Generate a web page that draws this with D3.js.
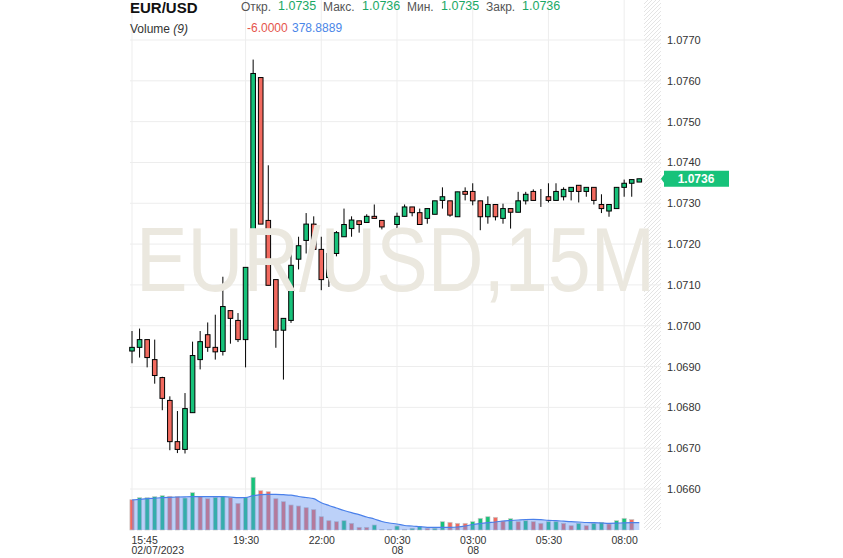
<!DOCTYPE html>
<html>
<head>
<meta charset="utf-8">
<script src="https://cdn.jsdelivr.net/npm/d3@7"></script>
<style>
    body { margin: 0; background: #fff; }
    svg { font-family: "Liberation Sans", Arial, sans-serif; display: block; }
</style>
</head>
<body>
<svg id="chart"></svg>
<script>
// 15-minute bars, EUR/USD
const times = ["15:45","16:00","16:15","16:30","16:45","17:00","17:15","17:30","17:45","18:00",
    "18:15","18:30","18:45","19:00","19:15","19:30","19:45","20:00","20:15","20:30",
    "20:45","21:00","21:15","21:30","21:45","22:00","22:15","22:30","22:45","23:00",
    "23:15","23:30","23:45","00:00","00:15","00:30","00:45","01:00","01:15","01:30",
    "01:45","02:00","02:15","02:30","02:45","03:00","03:15","03:30","03:45","04:00",
    "04:15","04:30","04:45","05:00","05:15","05:30","05:45","06:00","06:15","06:30",
    "06:45","07:00","07:15","07:30","07:45","08:00","08:15","08:30"];

const opens = [1.06938,1.06947,1.06966,1.06917,1.06873,1.06817,1.06716,1.06697,1.06787,1.06917,
    1.06978,1.06947,1.06937,1.07037,1.07013,1.06966,1.07167,1.07608,1.07258,1.07113,
    1.06989,1.07013,1.07163,1.07209,1.07249,1.07187,1.07118,1.07177,1.07218,1.07238,
    1.07257,1.07253,1.07268,1.07258,1.07248,1.07248,1.07268,1.07291,1.07277,1.07263,
    1.07273,1.07307,1.07306,1.07267,1.07329,1.07329,1.07306,1.07267,1.07297,1.07263,
    1.07287,1.07278,1.07306,1.07329,1.07316,1.07316,1.07307,1.07316,1.07329,1.07344,
    1.07329,1.07339,1.07297,1.07281,1.07287,1.07339,1.07349,1.07352];
const highs = [1.06987,1.06993,1.06966,1.06966,1.06875,1.06827,1.06791,1.06835,1.06961,1.06987,
    1.07008,1.07027,1.07120,1.07037,1.07031,1.07143,1.07652,1.07608,1.07393,1.07113,
    1.07018,1.07175,1.07218,1.07276,1.07268,1.07218,1.07196,1.07232,1.07287,1.07268,
    1.07257,1.07273,1.07297,1.07258,1.07248,1.07277,1.07297,1.07291,1.07287,1.07287,
    1.07306,1.07339,1.07306,1.07328,1.07339,1.07349,1.07306,1.07317,1.07297,1.07299,
    1.07287,1.07328,1.07328,1.07334,1.07335,1.07349,1.07349,1.07339,1.07339,1.07344,
    1.07339,1.07339,1.07322,1.07297,1.07339,1.07358,1.07358,1.07360];
const lows = [1.06908,1.06922,1.06898,1.06858,1.06793,1.06695,1.06688,1.06687,1.06787,1.06893,
    1.06936,1.06917,1.06927,1.06956,1.06960,1.06898,1.07156,1.07249,1.07099,1.06946,
    1.06868,1.07007,1.07138,1.07177,1.07187,1.07087,1.07095,1.07170,1.07218,1.07218,
    1.07228,1.07253,1.07263,1.07236,1.07248,1.07238,1.07268,1.07268,1.07248,1.07250,
    1.07273,1.07287,1.07267,1.07267,1.07307,1.07295,1.07234,1.07250,1.07258,1.07250,
    1.07238,1.07278,1.07297,1.07307,1.07291,1.07302,1.07307,1.07307,1.07307,1.07302,
    1.07316,1.07297,1.07276,1.07267,1.07287,1.07316,1.07316,1.07352];
const closes = [1.06947,1.06966,1.06922,1.06878,1.06822,1.06716,1.06697,1.06797,1.06927,1.06961,
    1.06947,1.06936,1.07047,1.07018,1.06966,1.07143,1.07618,1.07249,1.07099,1.06989,
    1.07018,1.07148,1.07196,1.07249,1.07187,1.07113,1.07177,1.07228,1.07248,1.07259,
    1.07248,1.07268,1.07263,1.07242,1.07248,1.07268,1.07291,1.07277,1.07248,1.07287,
    1.07306,1.07316,1.07271,1.07328,1.07322,1.07306,1.07267,1.07297,1.07267,1.07287,
    1.07278,1.07306,1.07322,1.07307,1.07316,1.07307,1.07329,1.07334,1.07339,1.07329,
    1.07339,1.07307,1.07287,1.07297,1.07339,1.07349,1.07358,1.07360];

const volumes = [1576,1680,1680,1732,1784,1752,1732,1664,1940,1732,
    1628,1700,1732,1680,1388,1680,2740,2044,1992,1628,
    1472,1300,1248,1160,1056,692,484,432,484,348,
    140,140,260,26,26,208,36,88,172,88,
    88,432,400,348,348,432,608,692,660,468,
    588,432,484,432,348,432,432,348,224,348,
    224,348,400,312,484,608,546,-6];
// 1 = up (green), 0 = down (red) as coloured on the volume pane
const volumeUp = [0,1,1,1,1,0,0,1,1,0, 0,1,1,0,0,1,1,0,0,0, 0,0,0,0,0,0,0,0,1,0,
    0,0,1,0,0,1,0,1,1,0, 1,1,0,0,0,1,1,1,0,0, 1,0,1,0,0,1,1,0,0,1,
    0,1,1,0,1,1,0,0];
// Volume (9) moving average line
const volumeMA = [1560,1596,1628,1654,1680,1700,1716,1726,1732,1732,
    1732,1732,1732,1716,1680,1690,1784,1836,1856,1856,
    1836,1810,1742,1690,1628,1420,1274,1144,1014,900,
    796,676,572,442,364,312,234,208,172,140,
    140,140,140,156,208,286,338,380,416,468,
    494,520,546,556,536,504,484,458,432,416,
    390,380,364,348,354,374,380,379];

const priceTicks = [1.0660,1.0670,1.0680,1.0690,1.0700,1.0710,1.0720,1.0730,1.0740,1.0750,1.0760,1.0770];
const timeTicks = ["15:45","19:30","22:00","00:30","03:00","05:30","08:00"];
const timeSubTicks = ["02/07/2023","","","08","08","",""];

const headerLabels = ["Откр.","Макс.","Мин.","Закр."];
const headerValues = ["1.0735","1.0736","1.0735","1.0736"];
const volumeLegend = ["-6.0000","378.8889"];
const lastPrice = 1.0736;

const GREEN = "#17c27a", RED = "#f26a5f";

class CandleChart {
    constructor(_config) {
        this.config = {
            parentElement: _config.parentElement,
            containerWidth: _config.containerWidth || 843,
            containerHeight: _config.containerHeight || 558,
            plotLeft: 130,
            plotRight: 644,
            axisX: 661,
            priceTop: 40,
            priceBottom: 489,
            volBase: 530,
            volTop: 477.3
        };
        this.initVis();
    }

    initVis() {
        let vis = this;
        const c = vis.config;

        vis.svg = d3.select(c.parentElement)
            .attr('width', c.containerWidth)
            .attr('height', c.containerHeight);

        vis.xScale = d3.scalePoint().domain(times).range([132, 639.3]);
        vis.yScale = d3.scaleLinear().domain([1.0660, 1.0770]).range([c.priceBottom, c.priceTop]);
        vis.vScale = d3.scaleLinear().domain([0, 2740]).range([c.volBase, c.volTop]);

        // hatch pattern for the right margin strip
        const defs = vis.svg.append('defs');
        defs.append('pattern')
            .attr('id', 'hatch')
            .attr('width', 4).attr('height', 4)
            .attr('patternUnits', 'userSpaceOnUse')
            .append('path')
            .attr('d', 'M-1,1 L1,-1 M0,4 L4,0 M3,5 L5,3')
            .attr('stroke', '#e4e4e4')
            .attr('stroke-width', 1);

        vis.svg.append('rect')
            .attr('x', c.plotRight).attr('y', 0)
            .attr('width', c.axisX - c.plotRight).attr('height', c.volBase)
            .attr('fill', 'url(#hatch)');

        vis.gridG = vis.svg.append('g').attr('class', 'grid');
        vis.markG = vis.svg.append('g');
    }

    renderVis() {
        let vis = this;
        const c = vis.config;

        // grid
        vis.gridG.selectAll('.hgrid')
            .data(priceTicks)
            .join('line')
            .attr('class', 'hgrid')
            .attr('x1', c.plotLeft).attr('x2', c.axisX)
            .attr('y1', d => vis.yScale(d)).attr('y2', d => vis.yScale(d))
            .attr('stroke', '#ededed');

        vis.gridG.selectAll('.vgrid')
            .data(timeTicks)
            .join('line')
            .attr('class', 'vgrid')
            .attr('x1', d => vis.xScale(d)).attr('x2', d => vis.xScale(d))
            .attr('y1', 0).attr('y2', c.volBase)
            .attr('stroke', '#ededed');

        // watermark (stretched vertically so its box stays inside the plot)
        vis.svg.append('text')
            .attr('transform', 'translate(136,291) scale(1,1.2)')
            .attr('textLength', 519)
            .attr('lengthAdjust', 'spacingAndGlyphs')
            .style('font-size', '75px')
            .attr('fill', '#ebe8df')
            .text('EUR/USD,15M');

        // volume bars
        const bw = 4.2;
        vis.markG.selectAll('.vol')
            .data(times)
            .join('rect')
            .attr('class', 'vol')
            .attr('x', d => vis.xScale(d) - bw / 2)
            .attr('width', bw)
            .attr('y', (d, i) => vis.vScale(Math.max(0, volumes[i])))
            .attr('height', (d, i) => c.volBase - vis.vScale(Math.max(0, volumes[i])))
            .attr('fill', (d, i) => volumeUp[i] ? GREEN : RED)
            .attr('stroke', '#c9c9c9')
            .attr('stroke-width', 0.7);

        // volume MA area
        const area = d3.area()
            .x((d, i) => vis.xScale(times[i]))
            .y0(c.volBase)
            .y1(d => vis.vScale(d))
            .curve(d3.curveMonotoneX);
        const line = d3.line()
            .x((d, i) => vis.xScale(times[i]))
            .y(d => vis.vScale(d))
            .curve(d3.curveMonotoneX);

        vis.markG.append('path')
            .datum(volumeMA)
            .attr('d', area)
            .attr('fill', 'rgba(96,146,240,0.42)');
        vis.markG.append('path')
            .datum(volumeMA)
            .attr('d', line)
            .attr('fill', 'none')
            .attr('stroke', '#4a80ea')
            .attr('stroke-width', 1.2);

        // candles
        const cw = 4.6;
        vis.markG.selectAll('.wick')
            .data(times)
            .join('line')
            .attr('class', 'wick')
            .attr('x1', d => vis.xScale(d)).attr('x2', d => vis.xScale(d))
            .attr('y1', (d, i) => vis.yScale(highs[i]))
            .attr('y2', (d, i) => vis.yScale(lows[i]))
            .attr('stroke', '#000')
            .attr('stroke-width', 1);

        vis.markG.selectAll('.body')
            .data(times)
            .join('rect')
            .attr('class', 'body')
            .attr('x', d => vis.xScale(d) - cw / 2)
            .attr('width', cw)
            .attr('y', (d, i) => vis.yScale(Math.max(opens[i], closes[i])))
            .attr('height', (d, i) => Math.abs(vis.yScale(opens[i]) - vis.yScale(closes[i])))
            .attr('fill', (d, i) => closes[i] >= opens[i] ? GREEN : RED)
            .attr('stroke', '#000')
            .attr('stroke-width', 1);

        // price axis
        vis.priceAxis = d3.axisRight(vis.yScale)
            .tickValues(priceTicks)
            .tickSize(0)
            .tickPadding(6)
            .tickFormat(d3.format('.4f'));
        const pa = vis.svg.append('g')
            .attr('transform', `translate(${c.axisX},0)`)
            .call(vis.priceAxis);
        pa.select('.domain').remove();
        pa.selectAll('text').style('font-size', '11px').attr('fill', '#333');

        // time axis
        vis.timeAxis = d3.axisBottom(vis.xScale)
            .tickValues(timeTicks)
            .tickSize(0)
            .tickPadding(0);
        const ta = vis.svg.append('g')
            .attr('transform', `translate(0,${c.volBase})`)
            .call(vis.timeAxis);
        ta.select('.domain').remove();
        ta.selectAll('.tick text')
            .style('font-size', '10.5px')
            .attr('fill', '#333')
            .attr('dy', null)
            .attr('y', 0)
            .attr('text-anchor', (d, i) => i === 0 ? 'start' : 'middle')
            .attr('x', (d, i) => i === 0 ? -1 : 0)
            .each(function(d, i) {
                const t = d3.select(this);
                t.text(null);
                t.append('tspan').attr('x', i === 0 ? -1 : 0).attr('y', 13.5).text(d);
                if (timeSubTicks[i]) {
                    t.append('tspan').attr('x', i === 0 ? -1 : 0).attr('y', 24).text(timeSubTicks[i]);
                }
            });

        // last price tag
        const py = vis.yScale(lastPrice);
        vis.svg.append('path')
            .attr('d', `M${c.axisX},${py} L${c.axisX + 3},${py - 4} L${c.axisX + 3},${py - 8} L729,${py - 8} L729,${py + 8} L${c.axisX + 3},${py + 8} L${c.axisX + 3},${py + 4} Z`)
            .attr('fill', GREEN);
        vis.svg.append('text')
            .attr('x', 696).attr('y', py + 4)
            .attr('text-anchor', 'middle')
            .style('font-size', '12px')
            .style('font-weight', 'bold')
            .attr('fill', '#fff')
            .text(d3.format('.4f')(lastPrice));

        // header
        const hdr = vis.svg.append('g');
        hdr.append('text')
            .attr('x', 130).attr('y', 13)
            .style('font-size', '15px').style('font-weight', 'bold')
            .attr('fill', '#111')
            .text('EUR/USD');
        const labelX = [241, 323, 407, 486];
        const valueX = [278, 362, 441, 522];
        headerLabels.forEach((l, i) => {
            hdr.append('text').attr('x', labelX[i]).attr('y', 11)
                .style('font-size', '12px').attr('fill', '#555').text(l);
            hdr.append('text').attr('x', valueX[i]).attr('y', 10)
                .style('font-size', '12.5px').attr('fill', '#1aa866').text(headerValues[i]);
        });
        const vt = hdr.append('text').attr('x', 130).attr('y', 33)
            .style('font-size', '12px').attr('fill', '#333');
        vt.append('tspan').text('Volume ');
        vt.append('tspan').style('font-style', 'italic').text('(9)');
        hdr.append('text').attr('x', 247).attr('y', 32)
            .style('font-size', '12px').attr('fill', '#e5544b')
            .text(volumeLegend[0]);
        hdr.append('text').attr('x', 292).attr('y', 32)
            .style('font-size', '12px').attr('fill', '#4a86e8')
            .text(volumeLegend[1]);
    }
}

const chart = new CandleChart({ parentElement: '#chart' });
chart.renderVis();
</script>
</body>
</html>
